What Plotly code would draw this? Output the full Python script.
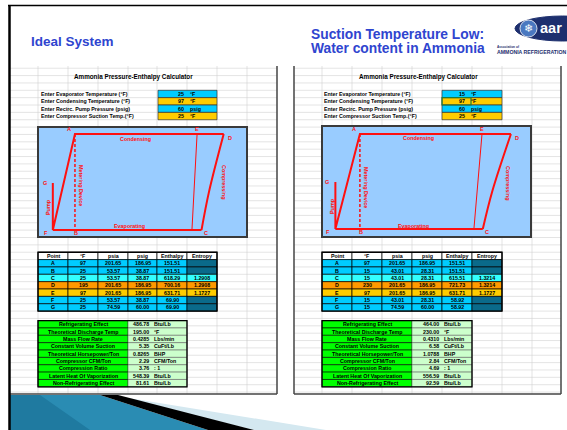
import plotly.graph_objects as go

# ---------------- data ----------------
point_names = ["A", "B", "C", "D", "E", "F", "G"]
table_headers = ["Point", "°F", "psia", "psig", "Enthalpy", "Entropy"]

input_labels = ["Enter Evaporator Temperature (°F)", "Enter Condensing Temperature (°F)",
                "Enter Recirc. Pump Pressure (psig)", "Enter Compressor Suction Temp.(°F)"]
input_units = ["°F", "°F", "psig", "°F"]
left_inputs = [25, 97, 60, 25]
right_inputs = [15, 97, 60, 25]

left_temp = [97, 25, 25, 195, 97, 25, 25]
left_psia = [201.65, 53.57, 53.57, 201.65, 201.65, 53.57, 74.59]
left_psig = [186.95, 38.87, 38.87, 186.95, 186.95, 38.87, 60.00]
left_enthalpy = [151.51, 151.51, 618.29, 700.16, 631.71, 69.90, 69.90]
left_entropy = [None, None, 1.2908, 1.2908, 1.1727, None, None]

right_temp = [97, 15, 15, 230, 97, 15, 15]
right_psia = [201.65, 43.01, 43.01, 201.65, 201.65, 43.01, 74.59]
right_psig = [186.95, 28.31, 28.31, 186.95, 186.95, 28.31, 60.00]
right_enthalpy = [151.51, 151.51, 615.51, 721.73, 631.71, 58.92, 58.92]
right_entropy = [None, None, 1.3214, 1.3214, 1.1727, None, None]

result_labels = ["Refrigerating Effect", "Theoretical Discharge Temp", "Mass Flow Rate",
                 "Constant Volume Suction", "Theoretical Horsepower/Ton", "Compressor CFM/Ton",
                 "Compression Ratio", "Latent Heat Of Vaporization", "Non-Refrigerating Effect"]
result_units = ["Btu/Lb", "°F", "Lbs/min", "CuFt/Lb", "BHP", "CFM/Ton", ": 1", "Btu/Lb", "Btu/Lb"]
left_results = ["486.78", "195.00", "0.4285", "5.35", "0.8265", "2.29", "3.76", "548.39", "81.61"]
right_results = ["464.00", "230.00", "0.4310", "6.58", "1.0788", "2.84", "4.69", "556.59", "92.59"]

# values (drawn pump head, compressor curve mid, sat. vapour line)
left_G_drawn_psia = 126.0
right_G_drawn_psia = 121.5
left_comp_mid = [646.1, 112.8]
right_comp_mid = [651.6, 106.5]
left_satvap_h = [602.0, 583.0]
right_satvap_h = [612.5, 582.0]

# ---------------- styles ----------------
FONT = "Liberation Sans"
RED = "#ff1010"
BLUE = "#00ccff"
GOLD = "#ffcc00"
CYAN = "#33ffff"
ORANGE = "#ff9900"
TEAL = "#0a6a8a"
GREEN = "#00ff00"
LGREEN = "#ccffcc"
row_fill = [BLUE, BLUE, CYAN, ORANGE, GOLD, BLUE, BLUE]
ent_fill = [TEAL, TEAL, CYAN, ORANGE, GOLD, TEAL, TEAL]
input_fill = [BLUE, GOLD, BLUE, GOLD]

shapes = []
anns = []


def rect(x0, y0, x1, y1, fill=None, line="black", lw=0.7):
    shapes.append(dict(type="rect", xref="x", yref="y", x0=x0, y0=y0, x1=x1, y1=y1,
                       fillcolor=fill or "rgba(0,0,0,0)",
                       line=dict(color=line, width=lw), layer="below"))


def seg(x0, y0, x1, y1, color, w):
    shapes.append(dict(type="line", xref="x", yref="y", x0=x0, y0=y0, x1=x1, y1=y1,
                       line=dict(color=color, width=w), layer="below"))


def poly(path, fill):
    shapes.append(dict(type="path", xref="x", yref="y", path=path, fillcolor=fill,
                       line=dict(width=0), layer="below"))


def text(x, y, s, size=5.3, color="black", anchor="center", bold=True, angle=0,
         family=FONT, xref="x", yref="y", xs=0, ys=0):
    anns.append(dict(x=x, y=y, xref=xref, yref=yref, text=s, showarrow=False,
                     xanchor=anchor, yanchor="middle", textangle=angle, borderpad=0,
                     xshift=xs, yshift=ys,
                     font=dict(size=size, color=color, family=family,
                               weight="bold" if bold else "normal")))


PITCH = 7.36
BASE = 90.3


def sheet(px0, px1, cols, inp_lab_x, inp_box, inp_vals, num_end, unit_x, box,
          temps, psia, psig, enth, entr, res, res_num_end, res_unit_x, title_x):
    top, bot = 66, 394
    # grid
    k = -3
    while BASE + k * PITCH < bot:
        y = BASE + k * PITCH
        if y > top:
            seg(px0, y, px1, y, "#d2d2d2", 0.6)
        k += 1
    for c in cols:
        seg(c, top, c, bot, "#d2d2d2", 0.6)
    # title
    text(title_x, 77, "Ammonia Pressure-Enthalpy Calculator", size=6.3)
    # inputs
    for i in range(4):
        y0 = BASE + i * PITCH
        yc = y0 + PITCH / 2
        text(inp_lab_x, yc, input_labels[i], anchor="left")
        rect(inp_box[0], y0, inp_box[1], y0 + PITCH, fill=input_fill[i], line="#333333", lw=0.7)
        text(num_end, yc, str(inp_vals[i]), anchor="right")
        text(unit_x, yc, input_units[i], anchor="left")
    # diagram box
    rect(box[0], box[1], box[2], box[3], fill="#99ccff", line="#3a3a3a", lw=2)
    # table
    tx = cols[0:7]
    ty0 = BASE + 22 * PITCH
    for j, h in enumerate(table_headers):
        rect(tx[j], ty0, tx[j + 1], ty0 + PITCH, fill="white", line="black", lw=0.7)
        text((tx[j] + tx[j + 1]) / 2, ty0 + PITCH / 2, h)
    for i in range(7):
        y0 = ty0 + (i + 1) * PITCH
        vals = [point_names[i], str(temps[i]), f"{psia[i]:.2f}", f"{psig[i]:.2f}",
                f"{enth[i]:.2f}", "" if entr[i] is None else f"{entr[i]:.4f}"]
        for j, v in enumerate(vals):
            fill = ent_fill[i] if j == 5 else row_fill[i]
            rect(tx[j], y0, tx[j + 1], y0 + PITCH, fill=fill, line="black", lw=0.7)
            if v:
                text((tx[j] + tx[j + 1]) / 2, y0 + PITCH / 2, v)
    rect(tx[0], ty0, tx[6], ty0 + 8 * PITCH, line="black", lw=1.4)
    # results
    gy0 = 320.6
    lab_x = (cols[0], cols[3])
    val_x = (cols[3], cols[5])
    for i in range(9):
        y0 = gy0 + i * PITCH
        yc = y0 + PITCH / 2
        rect(lab_x[0], y0, lab_x[1], y0 + PITCH, fill=GREEN, line="black", lw=0.6)
        rect(val_x[0], y0, val_x[1], y0 + PITCH, fill=LGREEN, line="#666666", lw=0.6)
        text((lab_x[0] + lab_x[1]) / 2, yc, result_labels[i])
        text(res_num_end, yc, res[i], anchor="right")
        text(res_unit_x, yc, result_units[i], anchor="left")
    rect(lab_x[0], gy0, val_x[1], gy0 + 9 * PITCH, line="black", lw=1.3)
    # panel borders
    seg(px0, bot, px1, bot, "#444444", 1.5)


sheet(10, 277, [38, 68, 98, 128, 157, 187, 217, 247], 40, (158, 217), left_inputs, 185, 188.5,
      (38, 127, 247, 237), left_temp, left_psia, left_psig, left_enthalpy, left_entropy,
      left_results, 149.5, 152.5, 133)
seg(277, 66, 277, 394, "#444444", 1.5)
sheet(294, 561, [322, 352, 382, 412, 442, 472, 502, 532], 323, (442, 502), right_inputs, 466, 469.5,
      (322, 126, 531, 237), right_temp, right_psia, right_psig, right_enthalpy, right_entropy,
      right_results, 439.5, 442.5, 418)
seg(294, 66, 294, 394, "#444444", 1.5)
seg(561, 66, 561, 394, "#444444", 1.5)
# active-cell marker on right sheet
rect(442, BASE + PITCH, 471, BASE + 2 * PITCH, line="#1f7a3a", lw=1.2)

# bottom decoration
poly("M 10 395 L 100 395 L 208 430 L 10 430 Z", "#2a8cb3")
poly("M 10 395 L 40 395 L 90 430 L 10 430 Z", "#1f7aa0")
poly("M 110 395 L 326 430 L 254 430 Z", "#d4e8f0")
poly("M 100 395 L 118 395 L 254 430 L 208 430 Z", "#000000")

# frame lines
seg(9.5, 5, 9.5, 430, "black", 2.5)
seg(8, 5.5, 567, 5.5, "black", 1.5)

# headings
HEAD = "#2f45cf"
text(30, 41, "Ideal System", size=13.5, color=HEAD, anchor="left")
text(310, 34, "Suction Temperature Low:", size=13.8, color=HEAD, anchor="left")
text(310, 48, "Water content in Ammonia", size=13.8, color=HEAD, anchor="left")

# logo
shapes.append(dict(type="circle", xref="x", yref="y", x0=515, y0=16, x1=610, y1=41,
                   fillcolor="#1d2f6e", line=dict(color="#1d2f6e", width=1), layer="below"))
shapes.append(dict(type="circle", xref="x", yref="y", x0=520, y0=20, x1=537, y1=37,
                   fillcolor="#4a78c0", line=dict(color="white", width=0.8), layer="below"))
text(528.5, 28.5, "❄", size=11, color="white", family="DejaVu Sans", bold=False)
text(539, 28, "aar", size=14.5, color="white", anchor="left")
text(496, 46.5, "Association of", size=3.2, color="#1d2f6e", anchor="left")
text(496, 52, "AMMONIA REFRIGERATION", size=5.2, color="#1d2f6e", anchor="left")

# ---------------- diagrams ----------------
fig = go.Figure()
fig.add_trace(go.Scatter(x=[0, 567], y=[0, 430], mode="markers", marker=dict(opacity=0),
                         hoverinfo="skip", showlegend=False, xaxis="x", yaxis="y"))


def diagram(xa, ya, h, p, g_p, mid, sat_h, lab_pos):
    A, B, C, D, E, F, G = range(7)
    common = dict(mode="lines", showlegend=False, hoverinfo="skip", xaxis=xa, yaxis=ya)
    fig.add_trace(go.Scatter(x=[h[G], h[F], h[A], h[D]], y=[g_p, p[F], p[A], p[D]],
                             line=dict(color=RED, width=2), **common))
    fig.add_trace(go.Scatter(x=[h[D], mid[0], h[C]], y=[p[D], mid[1], p[C]],
                             line=dict(color=RED, width=2, shape="spline"), **common))
    fig.add_trace(go.Scatter(x=[h[C], h[F]], y=[p[C], p[F]],
                             line=dict(color=RED, width=2), **common))
    fig.add_trace(go.Scatter(x=[h[A], h[B]], y=[p[A], p[B]],
                             line=dict(color=RED, width=1.5, dash="3px,2px"), **common))
    fig.add_trace(go.Scatter(x=sat_h, y=[p[E], p[C]],
                             line=dict(color=RED, width=1), **common))
    pts = {"A": (h[A], p[A], -6, 5), "B": (h[B], p[B], 1, -3), "C": (h[C], p[C], 4, -3),
           "D": (h[D], p[D], 6, -4), "E": (sat_h[0], p[E], 0, 5), "F": (h[F], p[F], -7, -3),
           "G": (h[G], g_p, -8, 0)}
    for name, (x, y, dx, dy) in pts.items():
        text(x, y, name, size=5.5, color=RED, xref=xa, yref=ya, xs=dx, ys=dy)
    for s, (x, y, ang) in lab_pos.items():
        text(x, y, s, size=5.4, color=RED, angle=ang)


diagram("x2", "y2", left_enthalpy, left_psia, left_G_drawn_psia, left_comp_mid, left_satvap_h,
        {"Condensing": (135, 139, 0), "Evaporating": (129, 226, 0),
         "Metering Device": (81, 185, 90), "Compressing": (224, 182, 90), "Pump": (48, 207, -90)})
diagram("x3", "y3", right_enthalpy, right_psia, right_G_drawn_psia, right_comp_mid, right_satvap_h,
        {"Condensing": (418, 138, 0), "Evaporating": (413, 226, 0),
         "Metering Device": (366, 187, 90), "Compressing": (508, 183, 90), "Pump": (332, 206, -90)})

W, H = 567, 430
hid = dict(visible=False, fixedrange=True)
fig.update_layout(
    width=W, height=H, margin=dict(l=0, r=0, t=0, b=0),
    paper_bgcolor="white", plot_bgcolor="rgba(0,0,0,0)",
    xaxis=dict(range=[0, W], domain=[0, 1], **hid),
    yaxis=dict(range=[H, 0], domain=[0, 1], **hid),
    xaxis2=dict(range=[15.2, 786.1], domain=[38 / W, 247 / W], anchor="y2", **hid),
    yaxis2=dict(range=[42.77, 212.45], domain=[1 - 237 / H, 1 - 127 / H], anchor="x2", **hid),
    xaxis3=dict(range=[8.4, 797.5], domain=[322 / W, 531 / W], anchor="y3", **hid),
    yaxis3=dict(range=[29.65, 215.0], domain=[1 - 237 / H, 1 - 126 / H], anchor="x3", **hid),
    shapes=shapes, annotations=anns, showlegend=False,
)
fig.write_html("out.html", config={"displayModeBar": False},
               post_script="document.body.style.margin='0px';document.body.style.overflow='hidden';")
